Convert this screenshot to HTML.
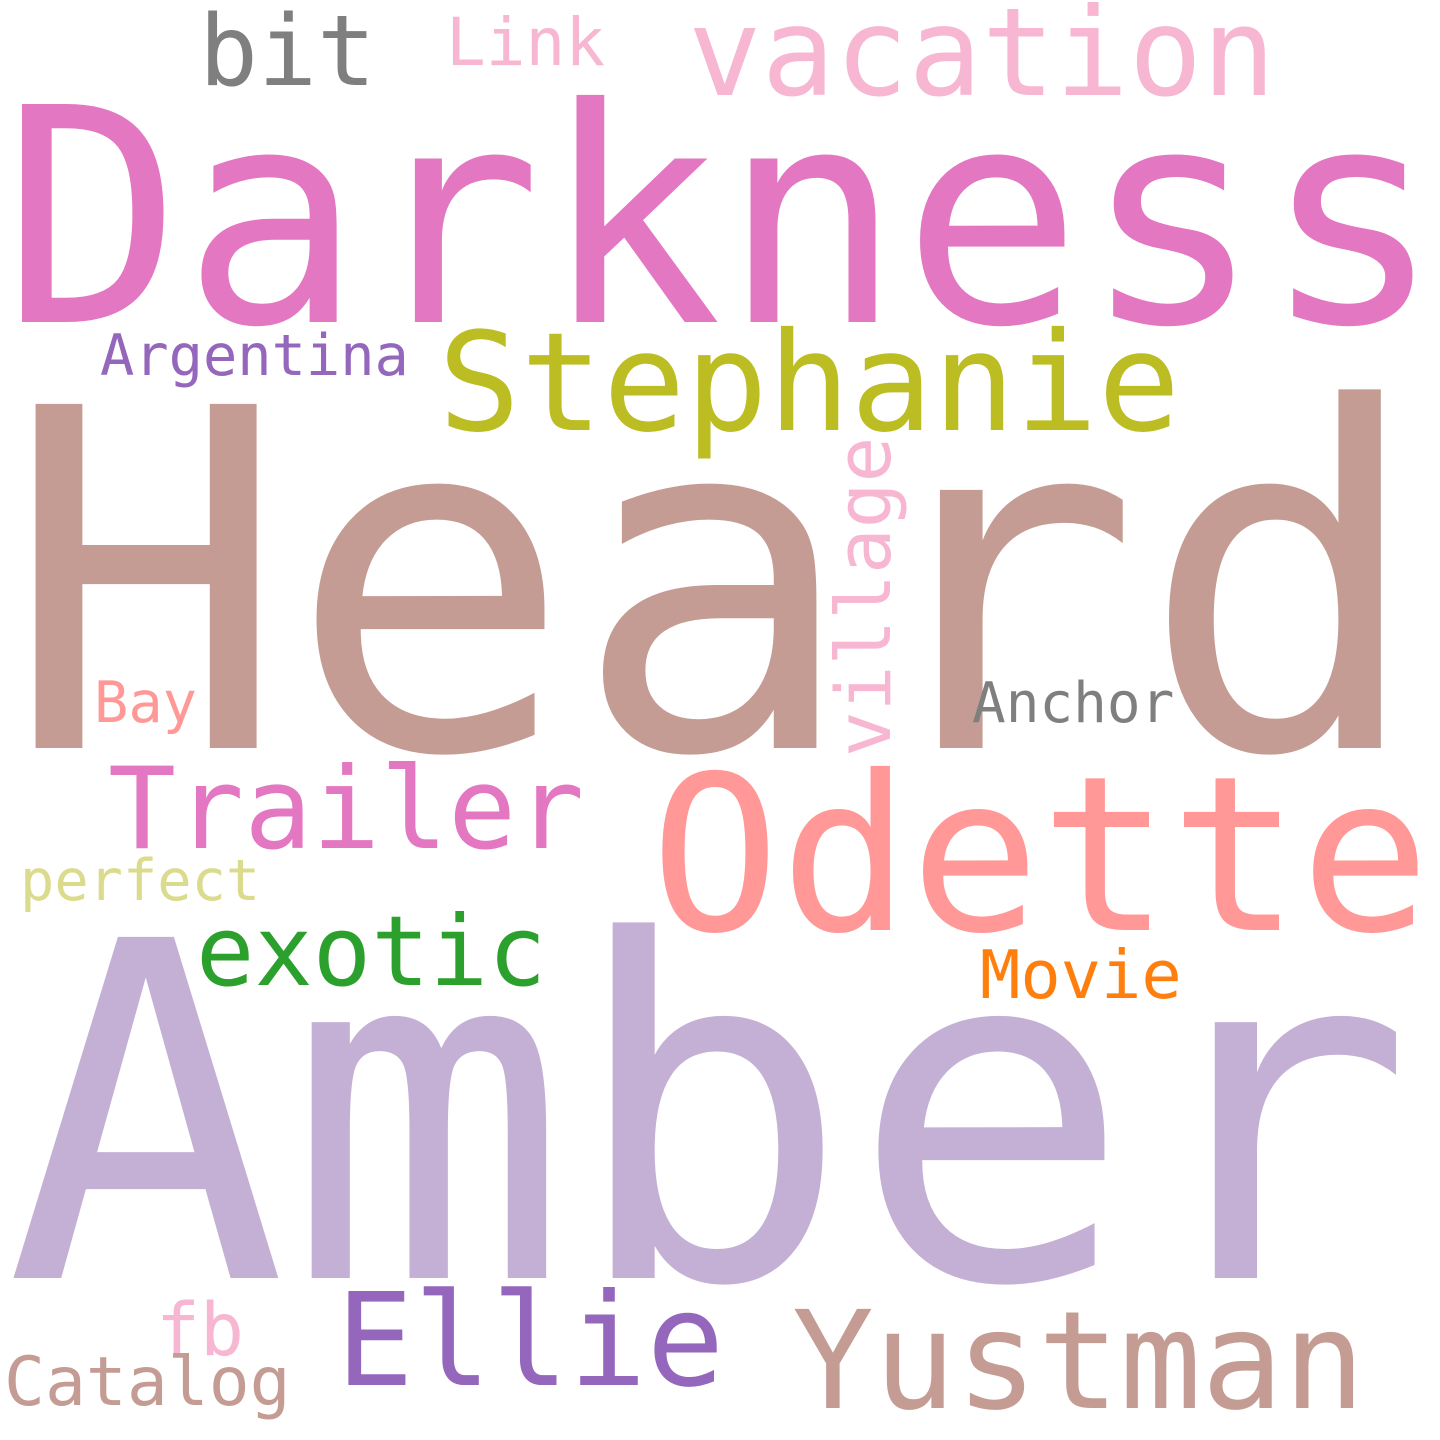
<!DOCTYPE html>
<html><head><meta charset="utf-8"><style>
html,body{margin:0;padding:0;background:#fff;}
svg{display:block;}
text{font-family:"DejaVu Sans Mono","Liberation Mono",monospace;}
</style></head><body>
<svg id="cloud" width="1440" height="1440" xmlns="http://www.w3.org/2000/svg">
<rect width="1440" height="1440" fill="#fff"/>
</svg>
<script>
const words = ["Darkness","Heard","Amber","Stephanie","vacation","bit","Link","Argentina","village","Bay","Anchor","Trailer","Odette","perfect","exotic","Movie","fb","Catalog","Ellie","Yustman"];
const sizes = [299,472,468,137,122,98,66,57,76,57,56,113,216,57,97,67,73,68,129,136];
const colors = ["#e377c2","#c49c94","#c5b0d5","#bcbd22","#f7b6d2","#7f7f7f","#f7b6d2","#9467bd","#f7b6d2","#ff9896","#7f7f7f","#e377c2","#ff9896","#dbdb8d","#2ca02c","#ff7f0e","#f7b6d2","#c49c94","#9467bd","#c49c94"];
const xs = [2,4,5,438,688,199,446,100,890,94,972,108,650,20,196,980,156,4,336,792];
const ys = [322,748,1278,430,95,85,65,375,757,722,722,848,930,900,985,998,1355,1405,1385,1408];
const rot = [0,0,0,0,0,0,0,0,-90,0,0,0,0,0,0,0,0,0,0,0];
const svg = document.getElementById('cloud');
const NS = "http://www.w3.org/2000/svg";
for (let i = 0; i < words.length; i++) {
  const t = document.createElementNS(NS, 'text');
  
  
  t.setAttribute('font-size', sizes[i]);
  t.setAttribute('fill', colors[i]);
  t.setAttribute('transform', 'translate(' + xs[i] + ',' + ys[i] + ') rotate(' + rot[i] + ')');
  t.textContent = words[i];
  svg.appendChild(t);
}
</script>
</body></html>
